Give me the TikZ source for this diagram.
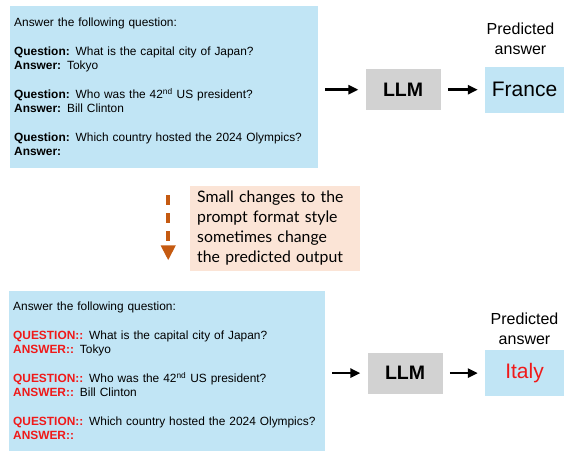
\documentclass[tikz,border=0pt]{standalone}
\usepackage{fontspec}
\setmainfont{Liberation Sans}
\newfontfamily\notefont{Lato}
\usepackage{xcolor}
\usepackage{tikz}
\usetikzlibrary{positioning,arrows.meta,calc}
\definecolor{promptblue}{RGB}{193,229,245}
\definecolor{modelgray}{RGB}{210,210,210}
\definecolor{notepink}{RGB}{251,228,214}
\definecolor{changeorange}{RGB}{197,90,17}
\definecolor{formatred}{RGB}{240,25,25}
\tikzset{
  prompt-box/.style={fill=promptblue, minimum width=308pt, minimum height=162pt,
    text width=300pt, inner xsep=4pt, inner ysep=0pt, align=left,
    font=\fontsize{11.9}{14}\selectfont},
  model-box/.style={fill=modelgray, minimum width=75pt, minimum height=41pt,
    inner sep=0pt, font=\fontsize{19.5}{22}\selectfont\bfseries},
  answer-box/.style={fill=promptblue, minimum width=79pt, minimum height=46pt,
    inner sep=0pt, font=\fontsize{21}{24}\selectfont},
  label-text/.style={inner sep=0pt, align=center, font=\fontsize{16}{20}\selectfont},
  note-box/.style={fill=notepink, minimum width=170pt, minimum height=85pt,
    text width=156pt, inner xsep=7pt, inner ysep=0pt, align=left,
    font=\notefont\fontsize{15.8}{20}\selectfont},
  flow-arrow/.style={-{Triangle[length=10pt,width=9pt]}, line width=2.5pt,
    shorten <=7pt, shorten >=7pt},
  change-arrow/.style={-{Triangle[length=15pt,width=14pt]}, line width=4.3pt,
    draw=changeorange, dash pattern=on 10pt off 8pt}
}
\newcommand{\plaintag}[1]{\textbf{#1}}
\newcommand{\redtag}[1]{\textcolor{formatred}{\textbf{#1}}}

\begin{document}
\begin{tikzpicture}[x=1pt,y=1pt]
\useasboundingbox (0,0) rectangle (572,-457);

% Original prompt format
\node[prompt-box, anchor=north west] (prompt1) at (10,-6) {Answer the following question:\\[15pt]
\plaintag{Question:} What is the capital city of Japan?\\
\plaintag{Answer:} Tokyo\\[15pt]
\plaintag{Question:} Who was the 42\textsuperscript{nd} US president?\\
\plaintag{Answer:} Bill Clinton\\[15pt]
\plaintag{Question:} Which country hosted the 2024 Olympics?\\
\plaintag{Answer:}};

\node[model-box, right=47pt of prompt1, yshift=-2.5pt] (llm1) {LLM};
\node[answer-box, right=44pt of llm1] (france) {France};
\node[label-text, above=11.5pt of france, xshift=-4pt] (pred1) {Predicted\\answer};

\draw[flow-arrow] (llm1.west -| prompt1.east) -- (llm1.west);
\draw[flow-arrow] (llm1.east) -- (llm1.east -| france.west);

% Note on the format change
\node[note-box, below=17pt of prompt1, xshift=111pt] (note) {Small changes to the\\
prompt format style\\
sometimes change\\
the predicted output};

% Changed prompt format
\node[prompt-box, below=122pt of prompt1, xshift=3pt, minimum width=316pt,
  text width=308pt, minimum height=160pt] (prompt2) {Answer the following question:\\[15pt]
\redtag{QUESTION::} What is the capital city of Japan?\\
\redtag{ANSWER::} Tokyo\\[15pt]
\redtag{QUESTION::} Who was the 42\textsuperscript{nd} US president?\\
\redtag{ANSWER::} Bill Clinton\\[15pt]
\redtag{QUESTION::} Which country hosted the 2024 Olympics?\\
\redtag{ANSWER::}};

\node[model-box, right=42pt of prompt2, yshift=-2.5pt] (llm2) {LLM};
\node[answer-box, right=42pt of llm2, text=formatred] (italy) {Italy};
\node[label-text, above=5.5pt of italy] (pred2) {Predicted\\answer};

\draw[flow-arrow] (llm2.west -| prompt2.east) -- (llm2.west);
\draw[flow-arrow] (llm2.east) -- (llm2.east -| italy.west);

\draw[change-arrow, shorten <=27pt, shorten >=30pt] ([xshift=4pt]prompt1.south)
  -- ([xshift=4pt]prompt1.south |- prompt2.north);
\end{tikzpicture}
\end{document}
